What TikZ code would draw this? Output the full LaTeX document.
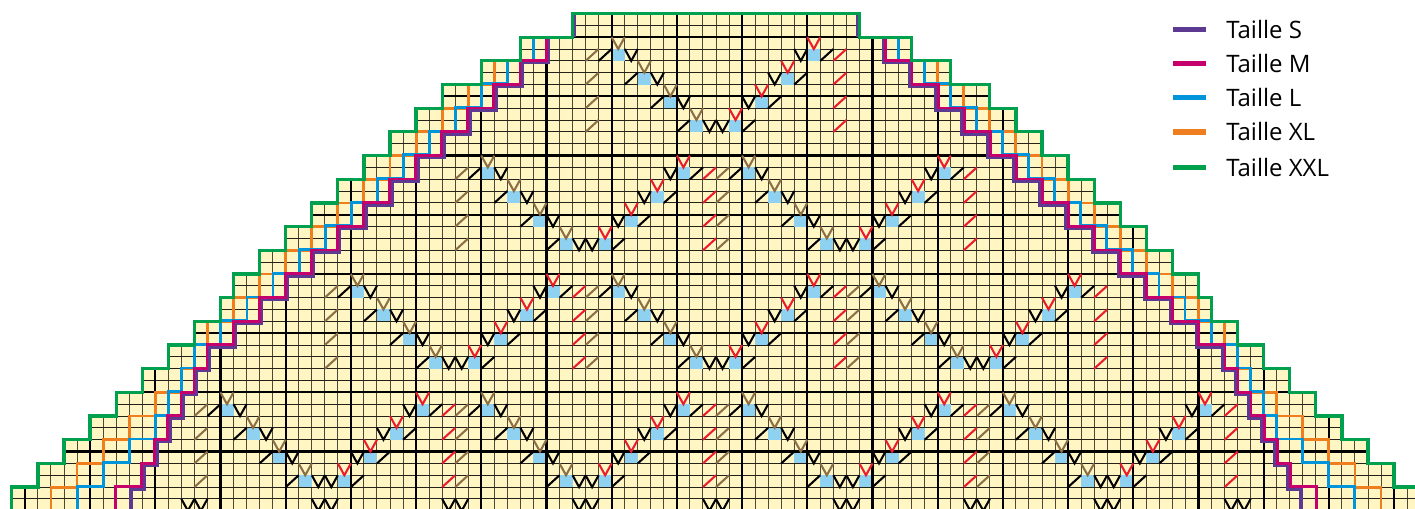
\documentclass[tikz,border=0pt]{standalone}
\usepackage{fontspec}
\setmainfont{Open Sans}
\definecolor{paper}{HTML}{FFF6C4}
\definecolor{cellblue}{HTML}{8FD1F1}
\definecolor{sbrown}{HTML}{8C6F45}
\definecolor{sred}{HTML}{EB1C2D}
\definecolor{cS}{HTML}{5C3A92}
\definecolor{cM}{HTML}{C5006C}
\definecolor{cL}{HTML}{0095DA}
\definecolor{cXL}{HTML}{EF7F1E}
\definecolor{cXXL}{HTML}{00A04F}
\definecolor{gridv}{HTML}{4E4936}
\definecolor{gridh}{HTML}{23211A}
\tikzset{
  thinv/.style={line width=0.72pt,gridv},
  thinh/.style={line width=0.72pt,gridh},
  thickgrid/.style={line width=1.65pt,black},
  stitch/.style={line width=1.55pt,line cap=butt,line join=miter},
  stair/.style={line width=2.15pt,line join=miter,line cap=butt},
  legendline/.style={line width=4pt},
  legendtext/.style={anchor=west,inner sep=0pt,font=\fontsize{18}{20}\selectfont}
}
\newcommand\stV[3]{\draw[stitch,#3] (#1,#2) -- (#1+.5,#2+1) -- (#1+1,#2);}
\newcommand\stS[3]{\draw[stitch,#3] (#1,#2+1) -- (#1+1,#2);}
\newcommand\stB[2]{\fill[cellblue] (#1,#2) rectangle (#1+1,#2+1);}
\newcommand\blueset[2]{%
  \foreach \k in {0,...,3}{%
    \stB{#1-8+2*\k}{#2+2*\k}
    \stB{#1+7-2*\k}{#2+2*\k}
  }}
\newcommand\markset[2]{%
  \foreach \k in {0,...,3}{%
    \stV{#1-8+2*\k}{#2+2*\k-1}{sbrown}
    \stS{#1-9+2*\k}{#2+2*\k}{black}
    \stV{#1-7+2*\k}{#2+2*\k}{black}
    \stV{#1+7-2*\k}{#2+2*\k-1}{sred}
    \stV{#1+6-2*\k}{#2+2*\k}{black}
    \stS{#1+8-2*\k}{#2+2*\k}{black}
    \stS{#1-10}{#2+2*\k}{sbrown}
    \stS{#1+9}{#2+2*\k}{sred}
  }}
\begin{document}
\begin{tikzpicture}[x=0.75pt,y=-0.75pt]
\path[use as bounding box,fill=white] (0,0) rectangle (1415,509);
\clip (0,0) rectangle (1415,509);
\begin{scope}[shift={(716,13.5)},x=9.78pt,y=-8.88pt]
  \def\outline{(-11,0) -- (11,0) -- (11,2) -- (15,2) -- (15,4) -- (18,4) -- (18,6) -- (21,6) -- (21,8) -- (23,8) -- (23,10) -- (25,10) -- (25,12) -- (27,12) -- (27,14) -- (29,14) -- (29,16) -- (31,16) -- (31,18) -- (33,18) -- (33,20) -- (35,20) -- (35,22) -- (37,22) -- (37,24) -- (38,24) -- (38,26) -- (40,26) -- (40,28) -- (42,28) -- (42,30) -- (44,30) -- (44,32) -- (46,32) -- (46,34) -- (48,34) -- (48,36) -- (50,36) -- (50,38) -- (52,38) -- (52,40) -- (54,40) -- (54,45) -- (-54,45) -- (-54,40) -- (-52,40) -- (-52,38) -- (-50,38) -- (-50,36) -- (-48,36) -- (-48,34) -- (-46,34) -- (-46,32) -- (-44,32) -- (-44,30) -- (-42,30) -- (-42,28) -- (-40,28) -- (-40,26) -- (-38,26) -- (-38,24) -- (-37,24) -- (-37,22) -- (-35,22) -- (-35,20) -- (-33,20) -- (-33,18) -- (-31,18) -- (-31,16) -- (-29,16) -- (-29,14) -- (-27,14) -- (-27,12) -- (-25,12) -- (-25,10) -- (-23,10) -- (-23,8) -- (-21,8) -- (-21,6) -- (-18,6) -- (-18,4) -- (-15,4) -- (-15,2) -- (-11,2) -- cycle}
  \fill[paper] \outline;
  \begin{scope}
    \clip \outline;
    % thin grid
    \foreach \i in {-54,...,54}{\draw[thinv] (\i,0) -- (\i,45);}
    \foreach \j in {0,...,44}{\draw[thinh] (-54,\j) -- (54,\j);}
    % blue cells over the thin grid
    \blueset{0}{3}
    \foreach \c in {-10,10}{\blueset{\c}{13}}
    \foreach \c in {-20,0,20}{\blueset{\c}{23}}
    \foreach \c in {-30,-10,10,30}{\blueset{\c}{33}}
    % thick grid
    \foreach \i in {-53,-48,...,52}{\draw[thickgrid] (\i,0) -- (\i,45);}
    \foreach \j in {2,7,...,42}{\draw[thickgrid] (-54,\j) -- (54,\j);}
  \end{scope}
  % stitches
  \markset{0}{3}
  \foreach \c in {-10,10}{\markset{\c}{13}}
  \foreach \c in {-20,0,20}{\markset{\c}{23}}
  \foreach \c in {-30,-10,10,30}{\markset{\c}{33}}
  \foreach \c in {-40,-30,...,40}{
    \stV{\c-1}{41}{black}
    \stV{\c}{41}{black}
  }
  % size outlines, both halves
  \foreach \sgn in {1,-1}{
  \begin{scope}[xscale=\sgn]
    \draw[stair,cXL] (14,2) -- (14,4) -- (17,4) -- (17,6) -- (19,6) -- (19,8) -- (21,8) -- (21,10) -- (23,10) -- (23,12) -- (25,12) -- (25,14) -- (27,14) -- (27,16) -- (29,16) -- (29,18) -- (31,18) -- (31,20) -- (33,20) -- (33,22) -- (35,22) -- (35,24) -- (37,24) -- (37,26) -- (39,26) -- (39,28) -- (40,28) -- (40,30) -- (41,30) -- (41,32) -- (43,32) -- (43,34) -- (45,34) -- (45,36) -- (47,36) -- (47,38) -- (49,38) -- (49,40) -- (51,40) -- (51,45);
    \draw[stair,cL,shift={(-.03,-.06)}] (14,2) -- (14,4) -- (16,4) -- (16,6) -- (18,6) -- (18,8) -- (20,8) -- (20,10) -- (22,10) -- (22,12) -- (24,12) -- (24,14) -- (26,14) -- (26,16) -- (28,16) -- (28,18) -- (30,18) -- (30,20) -- (32,20) -- (32,22) -- (34,22) -- (34,24) -- (36,24) -- (36,26) -- (38,26) -- (38,28) -- (40,28) -- (40,30) -- (41,30) -- (41,32) -- (42,32) -- (42,34) -- (43,34) -- (43,36) -- (45,36) -- (45,38) -- (47,38) -- (47,40) -- (49,40) -- (49,45);
    \draw[stair,cS,line width=3.1pt,shift={(-.12,.13)}] (11,-.13) -- (11,1.87);
    \draw[stair,cS,line width=3.1pt,shift={(-.12,.13)}] (13,2) -- (13,4) -- (15,4) -- (15,6) -- (17,6) -- (17,8) -- (19,8) -- (19,10) -- (21,10) -- (21,12) -- (23,12) -- (23,14) -- (25,14) -- (25,16) -- (27,16) -- (27,18) -- (29,18) -- (29,20) -- (31,20) -- (31,22) -- (33,22) -- (33,24) -- (35,24) -- (35,26) -- (37,26) -- (37,28) -- (39,28) -- (39,30) -- (40,30) -- (40,32) -- (41,32) -- (41,34) -- (42,34) -- (42,36) -- (43,36) -- (43,38) -- (44,38) -- (44,40) -- (45,40) -- (45,45);
    \draw[stair,cM,shift={(.03,-.02)}] (13,2) -- (13,4) -- (15,4) -- (15,6) -- (17,6) -- (17,8) -- (19,8) -- (19,10) -- (21,10) -- (21,12) -- (23,12) -- (23,14) -- (25,14) -- (25,16) -- (27,16) -- (27,18) -- (29,18) -- (29,20) -- (31,20) -- (31,22) -- (33,22) -- (33,24) -- (35,24) -- (35,26) -- (37,26) -- (37,28) -- (39,28) -- (39,30) -- (40,30) -- (40,32) -- (41,32) -- (41,34) -- (42,34) -- (42,36) -- (43,36) -- (43,38) -- (44,38) -- (44,40) -- (46,40) -- (46,45);
  \end{scope}}
  \draw[stair,cXXL,line width=2.4pt] \outline;
\end{scope}
% legend
\draw[legendline,cS] (1173,29.3) -- (1206,29.3);
\draw[legendline,cM] (1173,63.3) -- (1206,63.3);
\draw[legendline,cL] (1173,97.7) -- (1206,97.7);
\draw[legendline,cXL] (1173,132) -- (1206,132);
\draw[legendline,cXXL] (1173,167.3) -- (1206,167.3);
\node[legendtext] (tS) at (1226,29.5) {Taille S};
\node[legendtext] (tM) at (1226,63.5) {Taille M};
\node[legendtext] (tL) at (1226,97.7) {Taille L};
\node[legendtext] (tXL) at (1226,132) {Taille XL};
\node[legendtext] (tXXL) at (1226,167.3) {Taille XXL};
\end{tikzpicture}
\end{document}
